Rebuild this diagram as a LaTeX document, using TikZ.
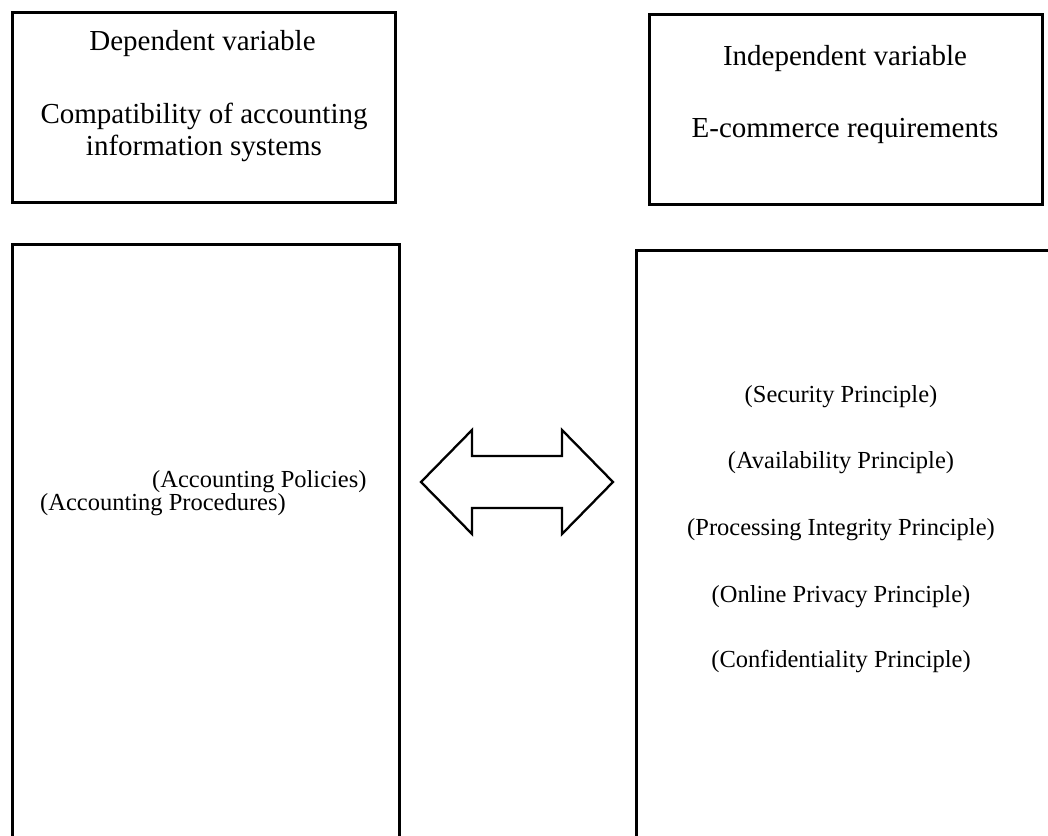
\documentclass[tikz,border=0pt]{standalone}
\usepackage{fontspec}
\setmainfont{Liberation Serif}
\begin{document}
\begin{tikzpicture}[x=1pt,y=-1pt,
  box/.style={draw=black, line width=2.8pt, inner sep=0pt},
  title/.style={font=\fontsize{29}{32}\selectfont, anchor=base, inner sep=0pt},
  item/.style={font=\fontsize{24.5}{28}\selectfont, anchor=base, inner sep=0pt},
  dbl/.style={draw=black, line width=2.3pt, line join=miter, fill=white}]
\useasboundingbox (0,0) rectangle (1048,835);
\clip (0,0) rectangle (1048,835);
% top boxes
\node[box, minimum width=383pt, minimum height=190pt, anchor=north west] (dep) at (11,11) {};
\node[box, minimum width=393pt, minimum height=190pt, anchor=north west] (indep) at (648,13) {};
% lower boxes (running off the page)
\node[box, minimum width=387pt, minimum height=620pt, anchor=north west] (deplist) at (11,243) {};
\node[box, minimum width=440pt, minimum height=620pt, anchor=north west] (indeplist) at (635,249) {};
% titles
\node[title] (t1) at (202.5,50) {Dependent variable};
\node[title] (t2) at (204,123) {Compatibility of accounting};
\node[title] (t3) at (204,155) {information systems};
\node[title] (t4) at (845,65) {Independent variable};
\node[title] (t5) at (845,137) {E-commerce requirements};
% left items
\node[item, anchor=base west] (l1) at (152,487) {(Accounting Policies)};
\node[item, anchor=base west] (l2) at (40,510) {(Accounting Procedures)};
% right items
\node[item] (r1) at (841,402) {(Security Principle)};
\node[item] (r2) at (841,468) {(Availability Principle)};
\node[item] (r3) at (841,535) {(Processing Integrity Principle)};
\node[item] (r4) at (841,602) {(Online Privacy Principle)};
\node[item] (r5) at (841,667) {(Confidentiality Principle)};
% double arrow
\draw[dbl] (421,482) -- (472,430) -- (472,456) -- (562,456) -- (562,430) -- (613,482)
  -- (562,534) -- (562,508) -- (472,508) -- (472,534) -- cycle;
\end{tikzpicture}
\end{document}
